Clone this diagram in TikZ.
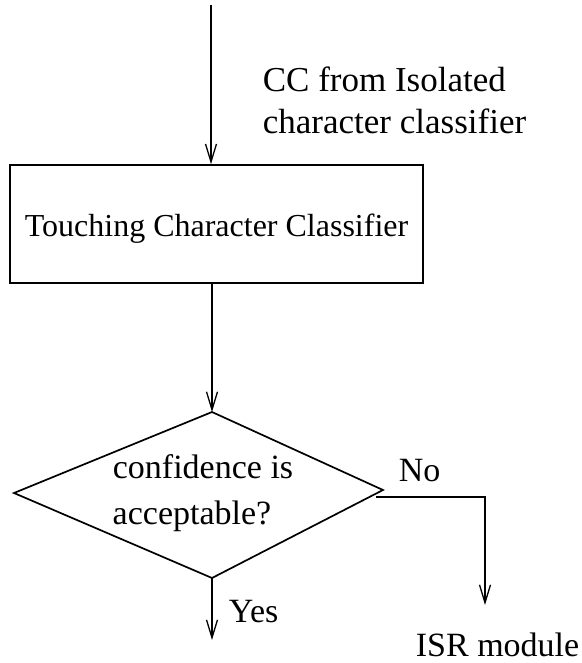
\documentclass[tikz,border=0pt]{standalone}
\usepackage{fontspec}
\setmainfont{Liberation Serif}
\usetikzlibrary{arrows.meta}
\begin{document}
\begin{tikzpicture}[x=1pt,y=-1pt,
  line width=1.7pt,
  flow/.style={-{Straight Barb[length=18pt,width=11pt,line width=1.3pt]}},
  lbl/.style={font=\fontsize{34}{40}\selectfont, inner sep=0pt, anchor=base west},
  boxnode/.style={draw, minimum width=413pt, minimum height=118pt, inner sep=0pt}]
  \useasboundingbox (0,0) rectangle (581,663);

  % input from the isolated character classifier
  \coordinate (src) at (211,5);
  \node[lbl, font=\fontsize{35}{42}\selectfont] (cctxt) at (262,92) {CC from Isolated};
  \node[lbl, font=\fontsize{35}{42}\selectfont] (cctxt2) at (262,134) {character classifier};

  % classifier box with its label
  \node[boxnode] (tcc) at (216.5,224) {};
  \node[lbl, font=\fontsize{32}{38}\selectfont] (tcctxt) at (24,236) {Touching Character Classifier};

  % decision diamond
  \coordinate (dtop) at (212,412);
  \coordinate (dleft) at (14,493);
  \coordinate (dright) at (383,490);
  \coordinate (dbot) at (212,578);
  \draw (dtop) -- (dright) -- (dbot) -- (dleft) -- cycle;
  \node[lbl, anchor=base] (q1) at (203,478) {confidence is};
  \node[lbl, anchor=base] (q2) at (192,524) {acceptable?};

  % branches
  \coordinate (nostart) at (376,497);
  \coordinate (nocorner) at (485,497);
  \coordinate (noend) at (485,605);
  \coordinate (yesend) at (212,640);
  \node[lbl] (no) at (398,481) {No};
  \node[lbl] (yes) at (228,622) {Yes};
  \node[lbl] (isr) at (415,656) {ISR module};

  % connectors
  \draw[flow] (src) -- (tcc.north -| src);
  \draw[flow] (tcc.south -| dtop) -- (dtop);
  \draw[flow] (nostart) -- (nocorner) -- (noend);
  \draw[flow] (dbot) -- (yesend);
\end{tikzpicture}
\end{document}
